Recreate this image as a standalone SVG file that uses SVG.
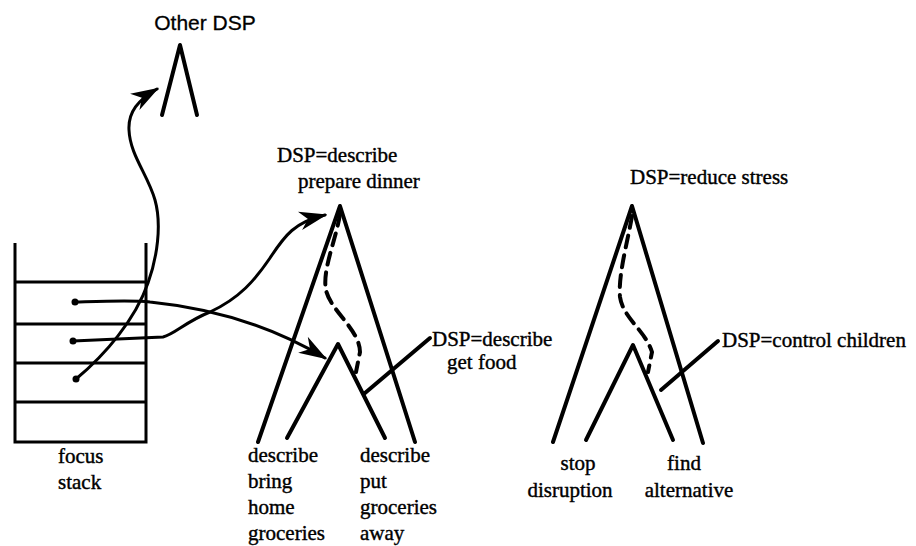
<svg xmlns="http://www.w3.org/2000/svg" width="916" height="546" viewBox="0 0 916 546">
<style>
.t{font-family:"Liberation Serif","Times New Roman",serif;font-size:21px;fill:#000;stroke:#000;stroke-width:0.4}
.s{font-family:"Liberation Sans",Arial,sans-serif;font-size:21px;fill:#000;stroke:#000;stroke-width:0.3}
.tree{fill:none;stroke:#000;stroke-width:4;stroke-linecap:round;stroke-linejoin:round}
.dash{fill:none;stroke:#000;stroke-width:4;stroke-dasharray:12 8;stroke-linecap:round}
.box{fill:none;stroke:#000;stroke-width:3}
.arr{fill:none;stroke:#000;stroke-width:3;stroke-linecap:round}
</style>
<defs>
<marker id="ah" markerUnits="userSpaceOnUse" viewBox="0 0 24 16" refX="22" refY="8" markerWidth="28" markerHeight="19" orient="auto">
<path d="M0,0 L24,8 L0,16 L7,8 Z" fill="#000"/>
</marker>
</defs>
<rect width="916" height="546" fill="#fff"/>

<g id="other-dsp">
<text class="s" x="205" y="30" text-anchor="middle">Other DSP</text>
<path class="tree" d="M162,115 L180,45 L197,115"/>
</g>

<g id="focus-stack">
<path class="box" d="M15,243 L15,442 L146,442 L146,243"/>
<path class="box" d="M15,282 H146 M15,324 H146 M15,363 H146 M15,402 H146"/>
<circle cx="75" cy="302" r="3.5"/>
<circle cx="73" cy="341" r="3.5"/>
<circle cx="76" cy="379" r="3.5"/>
<text class="t" x="58" y="463">focus</text>
<text class="t" x="58" y="489">stack</text>
</g>

<g id="tree-dinner">
<text class="t" x="277" y="162">DSP=describe</text>
<text class="t" x="298" y="188">prepare dinner</text>
<path class="tree" d="M258,442 L340,206 L415,442"/>
<path class="tree" d="M287,438 L338,344 L385,438"/>
<path class="dash" d="M340,214 C 336,240 322,270 326,290 C 330,310 360,330 360,352 L 356,372"/>
<path class="tree" d="M365,393 L430,338"/>
<text class="t" x="432" y="346">DSP=describe</text>
<text class="t" x="447" y="369">get food</text>
<text class="t" x="248" y="462">describe</text>
<text class="t" x="248" y="488">bring</text>
<text class="t" x="248" y="514">home</text>
<text class="t" x="248" y="540">groceries</text>
<text class="t" x="360" y="462">describe</text>
<text class="t" x="360" y="488">put</text>
<text class="t" x="360" y="514">groceries</text>
<text class="t" x="360" y="540">away</text>
</g>

<g id="tree-stress">
<text class="t" x="630" y="184">DSP=reduce stress</text>
<path class="tree" d="M553,442 L632,206 L703,443"/>
<path class="tree" d="M586,440 L633,345 L673,440"/>
<path class="dash" d="M632,216 C 628,240 618,275 620,297 C 623,318 645,330 652,352 L 648,372"/>
<path class="tree" d="M661,390 L718,341"/>
<text class="t" x="722" y="347">DSP=control children</text>
<text class="t" x="578" y="470" text-anchor="middle">stop</text>
<text class="t" x="570" y="497" text-anchor="middle">disruption</text>
<text class="t" x="684" y="470" text-anchor="middle">find</text>
<text class="t" x="689" y="497" text-anchor="middle">alternative</text>
</g>

<g id="connectors">
<path class="arr" marker-end="url(#ah)" d="M76,379 C 105,355 135,320 148,283 C 157,258 162,225 155,200 C 148,175 130,155 129,130 C 128,112 138,100 157,89"/>
<path class="arr" marker-end="url(#ah)" d="M75,302 C 110,301 135,300 150,302 C 210,308 270,325 325,358"/>
<path class="arr" marker-end="url(#ah)" d="M73,341 L 163,337 C 175,334 185,322 210,312 C 240,298 255,280 270,258 C 285,235 295,222 325,215"/>
</g>
</svg>
